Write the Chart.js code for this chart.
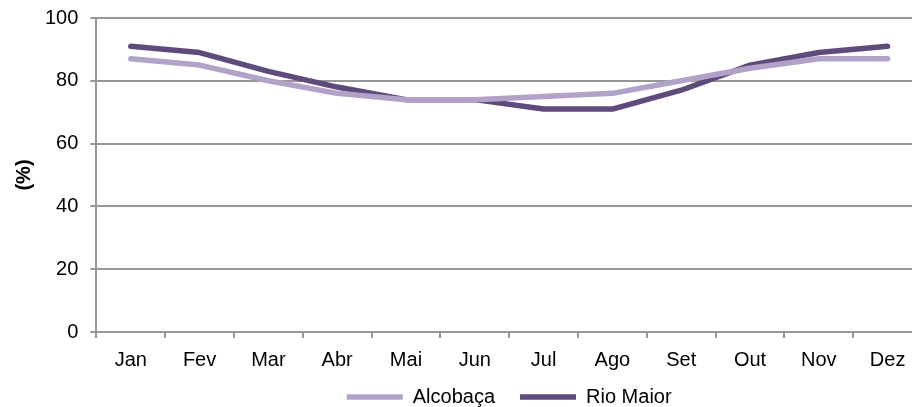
<!DOCTYPE html>
<html>
<head>
<meta charset="utf-8">
<script src="https://cdn.jsdelivr.net/npm/chart.js@4/dist/chart.umd.min.js"></script>
<style>
  html, body { margin: 0; padding: 0; background: #fff; overflow: hidden; }
  #wrap { width: 922px; height: 437px; }
</style>
</head>
<body>
<div id="wrap"><canvas id="c" width="922" height="437"></canvas></div>
<script>
// Monthly relative humidity (%)
const months = ['Jan', 'Fev', 'Mar', 'Abr', 'Mai', 'Jun', 'Jul', 'Ago', 'Set', 'Out', 'Nov', 'Dez'];
const alcobaca = [87, 85, 80, 76, 74, 74, 75, 76, 80, 84, 87, 87];
const rioMaior = [91, 89, 83, 78, 74, 74, 71, 71, 77, 85, 89, 91];
const yTicks = [0, 20, 40, 60, 80, 100];

const gridGray = '#979797';
const textColor = '#000000';
const fontFamily = '"Liberation Sans", Arial, sans-serif';
const fontSize = 20;

// Pull the legend row up closer to the month labels
const legendLift = {
  id: 'legendLift',
  afterLayout(chart) {
    const lg = chart.legend;
    if (lg) { lg.top -= 20; lg.bottom -= 20; }
  }
};

new Chart(document.getElementById('c'), {
  type: 'line',
  plugins: [legendLift],
  data: {
    labels: months,
    datasets: [
      {
        label: 'Alcobaça',
        data: alcobaca,
        borderColor: '#b3a2c7',
        backgroundColor: '#b3a2c7',
        borderWidth: 5.5,
        borderCapStyle: 'round',
        borderJoinStyle: 'round',
        pointRadius: 0,
        tension: 0,
        fill: false
      },
      {
        label: 'Rio Maior',
        data: rioMaior,
        borderColor: '#5f4a7c',
        backgroundColor: '#5f4a7c',
        borderWidth: 5.5,
        borderCapStyle: 'round',
        borderJoinStyle: 'round',
        pointRadius: 0,
        tension: 0,
        fill: false
      }
    ]
  },
  options: {
    responsive: false,
    animation: false,
    layout: { padding: { top: 18, right: 0, left: -9, bottom: 0 } },
    plugins: {
      tooltip: { enabled: false },
      legend: {
        position: 'bottom',
        fullSize: false,
        labels: {
          usePointStyle: true,
          pointStyle: 'line',
          pointStyleWidth: 56,
          boxHeight: 20,
          padding: 25,
          color: textColor,
          font: { family: fontFamily, size: fontSize }
        }
      }
    },
    scales: {
      x: {
        offset: true,
        grid: {
          offset: true,
          drawOnChartArea: false,
          drawTicks: true,
          tickLength: 6,
          color: gridGray,
          lineWidth: 2
        },
        border: { color: gridGray, width: 2 },
        ticks: {
          color: textColor,
          padding: 10,
          maxRotation: 0,
          font: { family: fontFamily, size: fontSize }
        }
      },
      y: {
        min: 0,
        max: 100,
        afterBuildTicks: (axis) => { axis.ticks = yTicks.map(v => ({ value: v })); },
        afterFit: (axis) => { axis.paddingTop = 0; axis.width -= 3; },
        grid: {
          color: gridGray,
          lineWidth: 2,
          drawTicks: true,
          tickLength: 6
        },
        border: { color: gridGray, width: 2 },
        ticks: {
          color: textColor,
          padding: 12,
          font: { family: fontFamily, size: fontSize }
        },
        title: {
          display: true,
          text: '(%)',
          color: textColor,
          padding: { top: 21, bottom: 0 },
          font: { family: fontFamily, size: fontSize, weight: 'bold' }
        }
      }
    }
  }
});
</script>
</body>
</html>
